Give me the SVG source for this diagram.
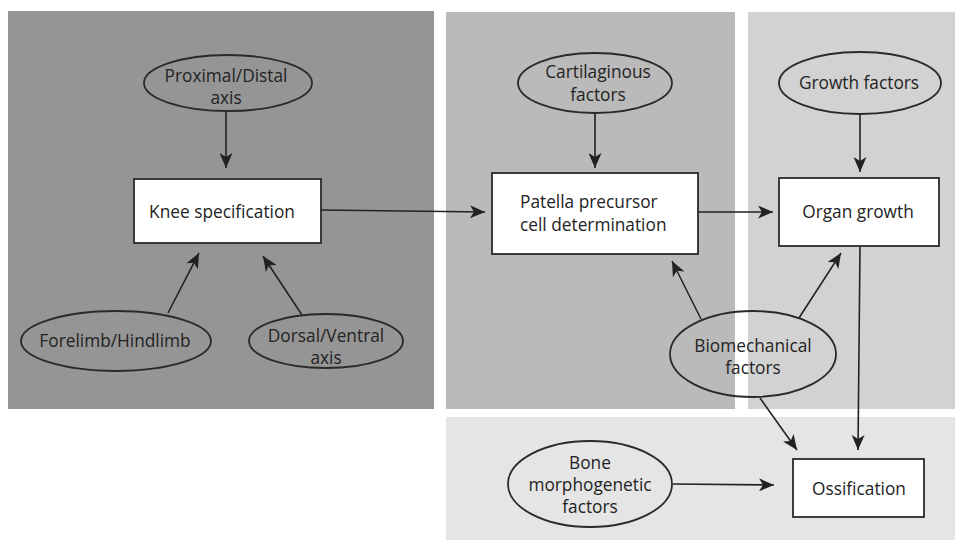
<svg xmlns="http://www.w3.org/2000/svg" width="955" height="541" viewBox="0 0 955 541">
<style>
.bg{fill:#ffffff}
.p1{fill:#959595}
.p2{fill:#bababa}
.p3{fill:#d2d2d2}
.p4{fill:#e5e5e5}
.ell{fill:none;stroke:#2a2a2a;stroke-width:1.8}
.box{fill:#ffffff;stroke:#2a2a2a;stroke-width:1.8}
.t{font-family:"Open Sans","Liberation Sans",Arial,sans-serif;font-size:17.3px;fill:#232323}
.c{text-anchor:middle}
.arr{fill:none;stroke:#222222;stroke-width:1.6;marker-end:url(#ah)}
</style>
<defs>
<marker id="ah" viewBox="0 0 15 13" markerWidth="15" markerHeight="13" refX="15" refY="6.5" orient="auto" markerUnits="userSpaceOnUse">
<path d="M0,0 L15,6.5 L0,13 L4,6.5 Z" fill="#222222"/>
</marker>
</defs>
<rect class="bg" x="0" y="0" width="955" height="541"/>
<g id="panels">
<rect class="p1" x="8" y="11" width="426" height="398"/>
<rect class="p2" x="446" y="12" width="289" height="397"/>
<rect class="p3" x="748" y="12" width="207" height="397"/>
<rect class="p4" x="446" y="417" width="509" height="123"/>
</g>
<g id="connectors">
<line class="arr" x1="226" y1="112" x2="226" y2="168"/>
<line class="arr" x1="168" y1="313" x2="199" y2="253"/>
<line class="arr" x1="302" y1="315" x2="263" y2="256"/>
<line class="arr" x1="321" y1="210" x2="485" y2="212"/>
<line class="arr" x1="595" y1="113" x2="595" y2="168"/>
<line class="arr" x1="698" y1="212" x2="773" y2="212"/>
<line class="arr" x1="860" y1="114" x2="860" y2="172"/>
<line class="arr" x1="860" y1="246" x2="858" y2="450"/>
<line class="arr" x1="701" y1="319" x2="672" y2="261"/>
<line class="arr" x1="799" y1="318" x2="841" y2="253"/>
<line class="arr" x1="760" y1="398" x2="797" y2="450"/>
<line class="arr" x1="673" y1="484" x2="774" y2="485"/>
</g>
<g id="proximal-distal">
<ellipse class="ell" cx="228" cy="83" rx="84" ry="28"/>
<text class="t c" x="226" y="82">Proximal/Distal</text>
<text class="t c" x="226" y="104">axis</text>
</g>
<g id="knee-specification">
<rect class="box" x="134" y="179" width="187" height="64"/>
<text class="t c" x="222" y="218">Knee specification</text>
</g>
<g id="forelimb-hindlimb">
<ellipse class="ell" cx="116" cy="341" rx="95" ry="30"/>
<text class="t c" x="115" y="347">Forelimb/Hindlimb</text>
</g>
<g id="dorsal-ventral">
<ellipse class="ell" cx="326" cy="341" rx="77" ry="27"/>
<text class="t c" x="326" y="342">Dorsal/Ventral</text>
<text class="t c" x="326" y="364">axis</text>
</g>
<g id="cartilaginous-factors">
<ellipse class="ell" cx="595" cy="83" rx="77" ry="30"/>
<text class="t c" x="598" y="78">Cartilaginous</text>
<text class="t c" x="598" y="101">factors</text>
</g>
<g id="patella-precursor">
<rect class="box" x="492" y="173" width="206" height="81"/>
<text class="t" x="520" y="208">Patella precursor</text>
<text class="t" x="520" y="231">cell determination</text>
</g>
<g id="growth-factors">
<ellipse class="ell" cx="860" cy="83" rx="81" ry="31"/>
<text class="t c" x="859" y="89">Growth factors</text>
</g>
<g id="organ-growth">
<rect class="box" x="779" y="178" width="160" height="68"/>
<text class="t c" x="858" y="218">Organ growth</text>
</g>
<g id="biomechanical-factors">
<ellipse class="ell" cx="753" cy="354" rx="83" ry="43"/>
<text class="t c" x="753" y="352">Biomechanical</text>
<text class="t c" x="753" y="374">factors</text>
</g>
<g id="bone-morphogenetic-factors">
<ellipse class="ell" cx="590" cy="484" rx="82" ry="43"/>
<text class="t c" x="590" y="469">Bone</text>
<text class="t c" x="590" y="491">morphogenetic</text>
<text class="t c" x="590" y="513">factors</text>
</g>
<g id="ossification">
<rect class="box" x="793" y="459" width="131" height="58"/>
<text class="t c" x="859" y="495">Ossification</text>
</g>
</svg>
